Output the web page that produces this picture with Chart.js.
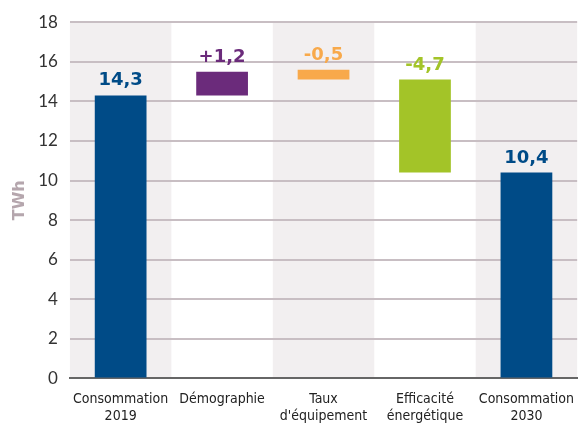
<!DOCTYPE html>
<html>
<head>
<meta charset="utf-8">
<script src="https://cdn.jsdelivr.net/npm/chart.js@4"></script>
<style>
  body { margin: 0; background: #fff; }
  #wrap { width: 579px; height: 430px; }
</style>
</head>
<body>
<div id="wrap"><canvas id="myChart" width="579" height="430"></canvas></div>
<script>
// categories and values
const categories = [['Consommation', '2019'], 'Démographie', ['Taux', "d'équipement"], ['Efficacité', 'énergétique'], ['Consommation', '2030']];
const barStart = [0, 14.3, 15.1, 10.4, 0];
const barEnd = [14.3, 15.5, 15.6, 15.1, 10.4];
const labelValues = ['14,3', '+1,2', '-0,5', '-4,7', '10,4'];
const barColors = ['#004b87', '#6b2b7b', '#f8a94b', '#a3c428', '#004b87'];
const yTicks = [0, 2, 4, 6, 8, 10, 12, 14, 16, 18];

const bands = {
  id: 'bands',
  beforeDraw(chart) {
    const { ctx, chartArea, scales: { x } } = chart;
    const w = x.width / categories.length;
    ctx.save();
    ctx.fillStyle = '#f2eff0';
    categories.forEach((c, i) => {
      if (i % 2 === 0) {
        const cx = x.getPixelForValue(i);
        ctx.fillRect(cx - w / 2, chartArea.top, w, chartArea.bottom - chartArea.top);
      }
    });
    ctx.restore();
  }
};

const valueLabels = {
  id: 'valueLabels',
  afterDatasetsDraw(chart) {
    const { ctx } = chart;
    const meta = chart.getDatasetMeta(0);
    ctx.save();
    ctx.font = 'bold 18px "DejaVu Sans"';
    ctx.textAlign = 'center';
    ctx.textBaseline = 'alphabetic';
    meta.data.forEach((bar, i) => {
      const top = Math.min(bar.y, bar.base);
      ctx.fillStyle = barColors[i];
      ctx.fillText(labelValues[i], bar.x, top - 10);
    });
    ctx.restore();
  }
};

const ctx = document.getElementById('myChart').getContext('2d');

new Chart(ctx, {
  type: 'bar',
  data: {
    labels: categories,
    datasets: [{
      data: barStart.map((s, i) => [s, barEnd[i]]),
      backgroundColor: barColors,
      borderWidth: 0,
      categoryPercentage: 1,
      barPercentage: 0.51
    }]
  },
  options: {
    responsive: false,
    animation: false,
    layout: { padding: { top: 7, right: 0, left: 0, bottom: 0 } },
    scales: {
      y: {
        min: 0,
        max: 18,
        afterBuildTicks: axis => { axis.ticks = yTicks.map(v => ({ value: v })); },
        border: { display: false },
        grid: {
          color: ctx => ctx.tick && ctx.tick.value === 0 ? '#666' : '#c8bec3',
          lineWidth: 2,
          drawTicks: false
        },
        ticks: {
          padding: 12,
          color: '#333',
          font: { family: 'Lato', size: 17 }
        },
        title: {
          display: true,
          text: 'TWh',
          color: '#b5a6ad',
          font: { family: 'DejaVu Sans', size: 16, weight: 'bold' },
          padding: { top: 10, bottom: -3 }
        }
      },
      x: {
        border: { color: '#666', width: 2 },
        grid: { display: false },
        ticks: {
          padding: 5,
          color: '#222',
          maxRotation: 0,
          autoSkip: false,
          font: { family: '"DejaVu Sans Condensed", "Liberation Sans Narrow", "Liberation Sans"', size: 14, lineHeight: 1.2 }
        }
      }
    },
    plugins: {
      legend: { display: false },
      tooltip: { enabled: false }
    }
  },
  plugins: [bands, valueLabels]
});
</script>
</body>
</html>
